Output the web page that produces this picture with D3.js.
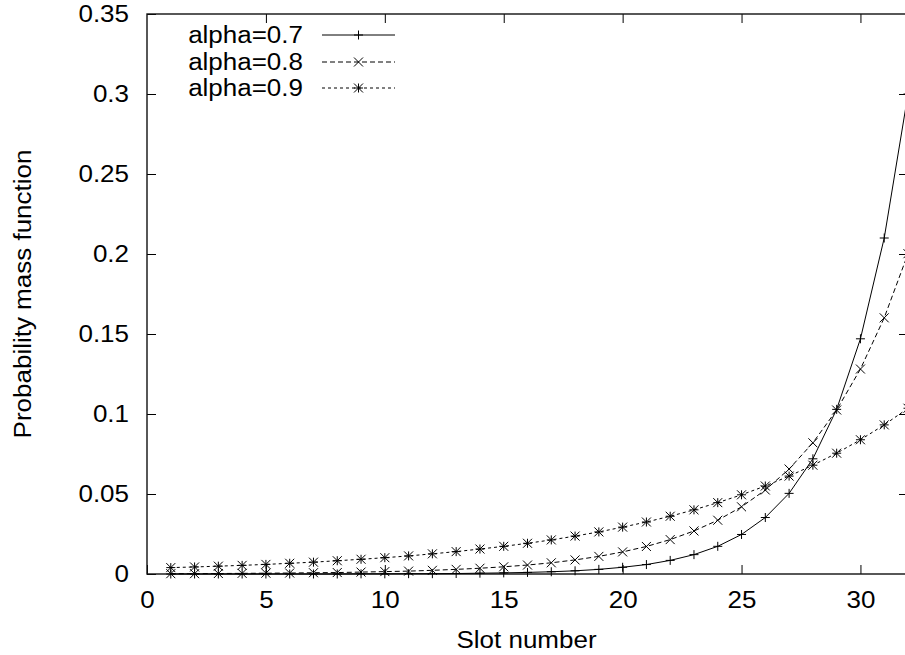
<!DOCTYPE html>
<html>
<head>
<meta charset="utf-8">
<script src="https://cdn.jsdelivr.net/npm/d3@7"></script>
<style>
  html, body { margin: 0; padding: 0; background: #fff; }
  svg { display: block; }
  text { font-family: "Liberation Sans", Arial, Helvetica, sans-serif; fill: #000; }
</style>
</head>
<body>
<script>
// ---- data ----
const slots = [1,2,3,4,5,6,7,8,9,10,11,12,13,14,15,16,17,18,19,20,21,22,23,24,25,26,27,28,29,30,31,32];
const alpha07 = [0.0000,0.0000,0.0000,0.0000,0.0000,0.0000,0.0000,0.0000,0.0001,0.0001,0.0002,0.0002,0.0003,0.0005,0.0007,0.0010,
                 0.0014,0.0020,0.0029,0.0042,0.0059,0.0085,0.0121,0.0173,0.0247,0.0353,0.0504,0.0720,0.1029,0.1470,0.2100,0.3000];
const alpha08 = [0.0002,0.0002,0.0003,0.0004,0.0005,0.0006,0.0008,0.0009,0.0012,0.0015,0.0018,0.0023,0.0029,0.0036,0.0045,0.0056,
                 0.0070,0.0088,0.0110,0.0138,0.0172,0.0215,0.0269,0.0336,0.0420,0.0525,0.0656,0.0820,0.1025,0.1281,0.1601,0.2002];
const alpha09 = [0.0040,0.0044,0.0049,0.0054,0.0060,0.0067,0.0074,0.0083,0.0092,0.0102,0.0113,0.0126,0.0140,0.0156,0.0173,0.0192,
                 0.0213,0.0237,0.0263,0.0293,0.0325,0.0361,0.0401,0.0446,0.0495,0.0550,0.0612,0.0680,0.0755,0.0839,0.0932,0.1036];
const seriesNames = ["alpha=0.7", "alpha=0.8", "alpha=0.9"];
const xTicks = [0,5,10,15,20,25,30];
const yTicks = [0,0.05,0.1,0.15,0.2,0.25,0.3,0.35];
const xTitle = "Slot number";
const yTitle = "Probability mass function";

// ---- layout ----
const W = 905, H = 655;
const pL = 147, pR = 908, pT = 14, pB = 574;
const FS = 23, SX = 1.13;   // glyphs in the reference are a little wide

const svg = d3.select("body").append("svg").attr("width", W).attr("height", H);

const x = d3.scaleLinear().domain([0, 32]).range([pL, pR]);
const y = d3.scaleLinear().domain([0, 0.35]).range([pB, pT]);

const fmtY = d => String(+d.toFixed(2));
const tickLen = 9;

function stretch(sel) {
  sel.each(function () {
    const t = d3.select(this);
    const ax = +(t.attr("x") || 0);
    t.attr("transform", `translate(${ax},0) scale(${SX},1) translate(${-ax},0)`);
  });
}

// axes (ticks inward, mirrored)
const gB = svg.append("g").attr("transform", `translate(0,${pB})`)
  .call(d3.axisBottom(x).tickValues(xTicks).tickSize(-tickLen).tickPadding(18).tickFormat(d3.format("d")));
const gT = svg.append("g").attr("transform", `translate(0,${pT})`)
  .call(d3.axisTop(x).tickValues(xTicks.filter(d => d > 0)).tickSize(-tickLen).tickFormat(""));
const gL = svg.append("g").attr("transform", `translate(${pL},0)`)
  .call(d3.axisLeft(y).tickValues(yTicks).tickSize(-tickLen).tickPadding(18).tickFormat(fmtY));
const gR = svg.append("g").attr("transform", `translate(${pR},0)`)
  .call(d3.axisRight(y).tickValues(yTicks.filter(d => d > 0 && d < 0.35)).tickSize(-tickLen).tickFormat(""));

[gB, gT, gL, gR].forEach(g => {
  g.select(".domain").remove();
  g.selectAll(".tick line").attr("stroke", "#000").attr("stroke-width", 1);
  g.selectAll("text").style("font-size", FS + "px").attr("fill", "#000").style("font-family", "'Liberation Sans', Arial, sans-serif");
});
gB.selectAll(".tick text").attr("dy", "0.71em");
stretch(gB.selectAll(".tick text"));
stretch(gL.selectAll(".tick text"));

// frame
svg.append("rect").attr("x", pL).attr("y", pT).attr("width", pR - pL).attr("height", pB - pT)
  .attr("fill", "none").attr("stroke", "#111").attr("stroke-width", 1.4);

// axis titles
svg.append("text").attr("x", (pL + pR) / 2 - 1).attr("y", 648).attr("text-anchor", "middle")
  .style("font-size", FS + "px").text(xTitle).call(stretch);
svg.append("text").attr("transform", `translate(31,${(pT + pB) / 2}) rotate(-90) scale(${SX},1)`).attr("text-anchor", "middle")
  .style("font-size", FS + "px").text(yTitle);

// series
const dashes = [null, "5,3", "3,3"];
const allSeries = [alpha07, alpha08, alpha09];
const ms = 4.5;
function marker(g, cx, cy, kind) {
  const p = d3.path();
  if (kind === 0 || kind === 2) {
    p.moveTo(cx - ms, cy); p.lineTo(cx + ms, cy);
    p.moveTo(cx, cy - ms); p.lineTo(cx, cy + ms);
  }
  if (kind === 1 || kind === 2) {
    p.moveTo(cx - ms, cy - ms); p.lineTo(cx + ms, cy + ms);
    p.moveTo(cx - ms, cy + ms); p.lineTo(cx + ms, cy - ms);
  }
  g.append("path").attr("d", p.toString()).attr("stroke", "#000").attr("stroke-width", 1).attr("fill", "none");
}

const line = d3.line().x(d => x(d[0])).y(d => y(d[1]));
allSeries.forEach((vals, i) => {
  const pts = slots.map((s, j) => [s, vals[j]]);
  const g = svg.append("g");
  g.append("path").datum(pts).attr("d", line).attr("fill", "none").attr("stroke", "#000")
    .attr("stroke-width", 1).attr("stroke-dasharray", dashes[i]);
  pts.forEach(p => marker(g, x(p[0]), y(p[1]), i));
});

// legend
const legY = [35, 62, 88];
seriesNames.forEach((name, i) => {
  const g = svg.append("g");
  g.append("text").attr("x", 303).attr("y", legY[i]).attr("dy", "0.36em").attr("text-anchor", "end")
    .style("font-size", FS + "px").text(name).call(stretch);
  g.append("line").attr("x1", 322).attr("x2", 395).attr("y1", legY[i]).attr("y2", legY[i])
    .attr("stroke", "#000").attr("stroke-width", 1).attr("stroke-dasharray", dashes[i]);
  marker(g, 358.5, legY[i], i);
});
</script>
</body>
</html>
